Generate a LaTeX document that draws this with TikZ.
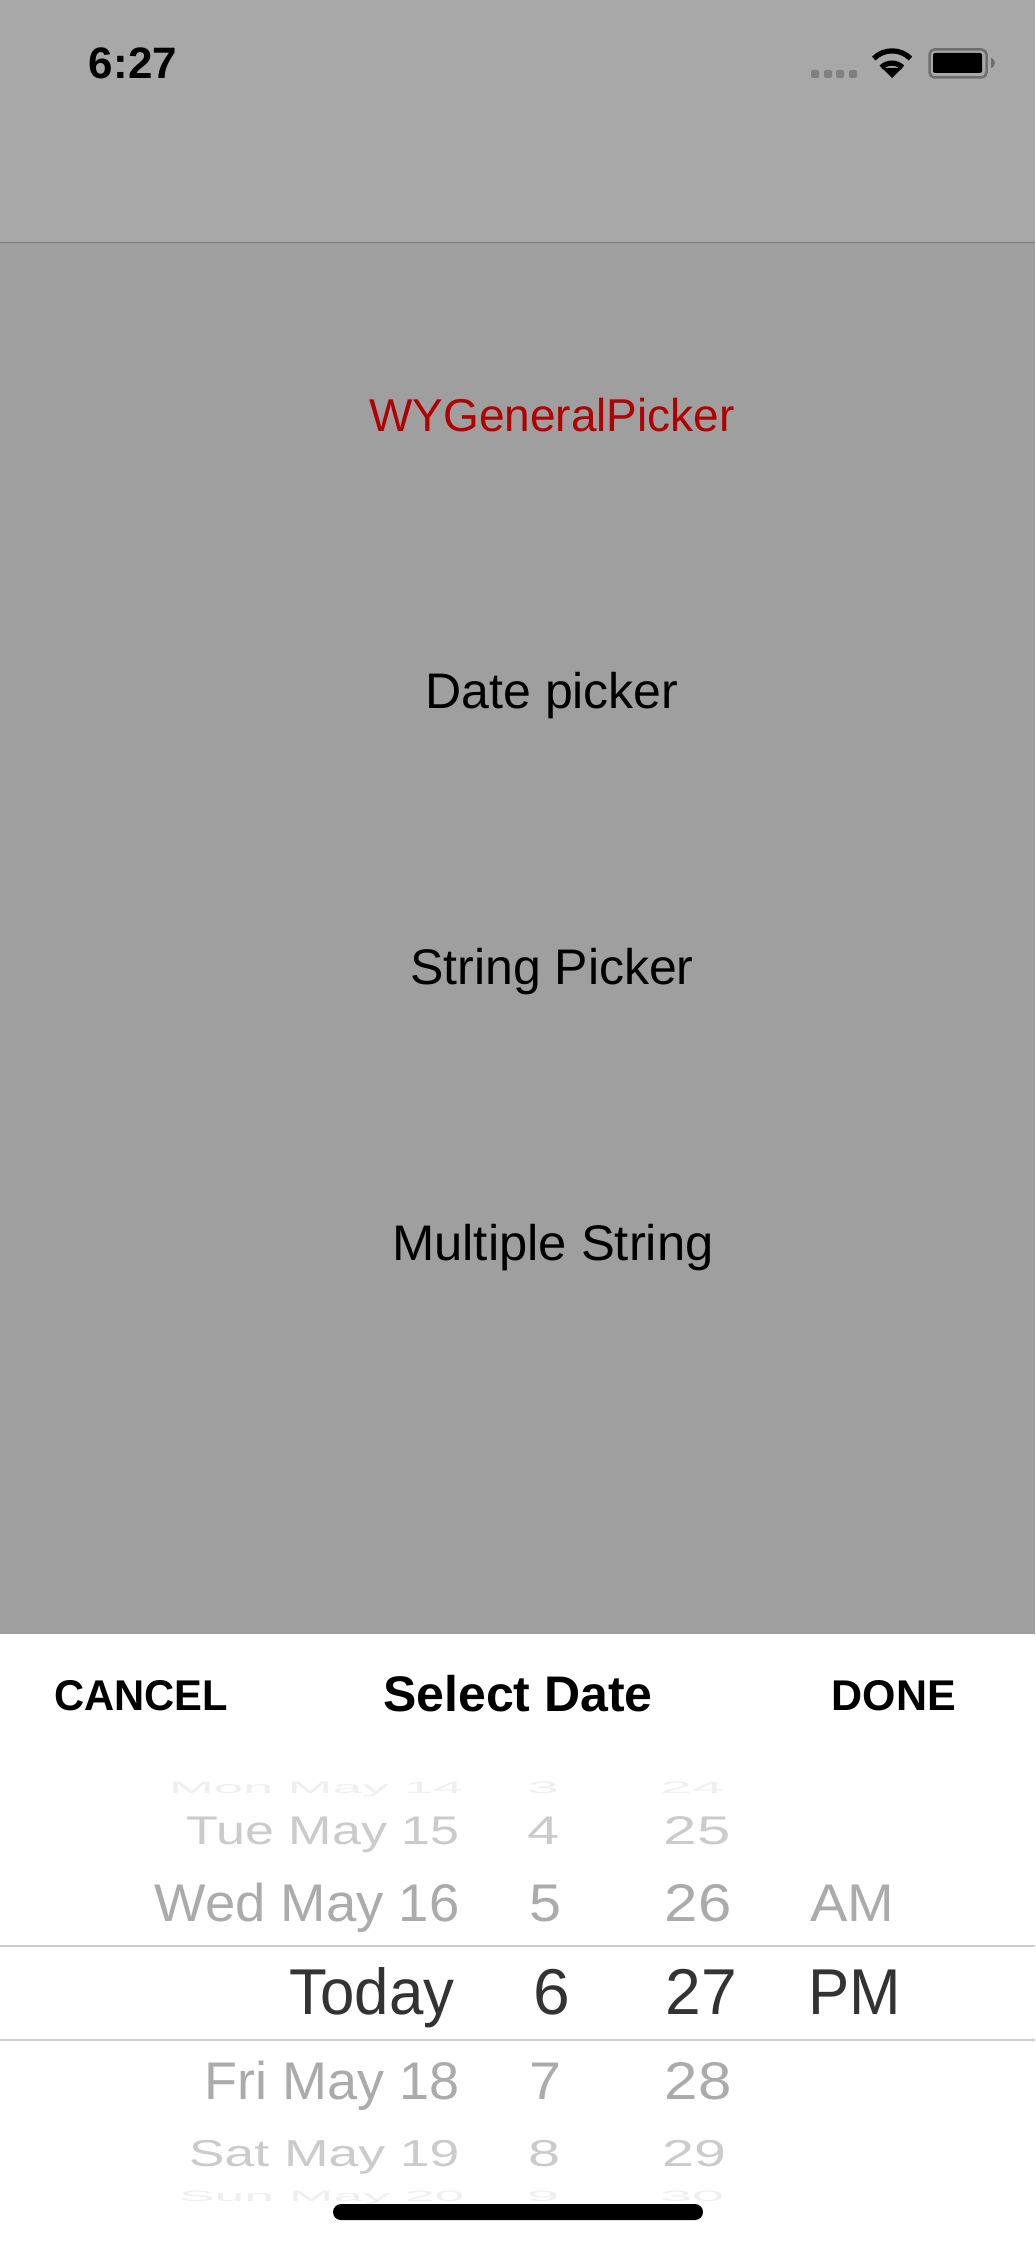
\documentclass[tikz,border=0pt]{standalone}
\usepackage{graphicx}
\usepackage{fontspec}
\setmainfont{Liberation Sans}
\usepackage{xcolor}
\definecolor{navgray}{HTML}{A8A8A8}
\definecolor{dimgray}{HTML}{9F9F9F}
\definecolor{navline}{HTML}{7C7C7C}
\definecolor{titlered}{HTML}{B00000}
\definecolor{wheelline}{HTML}{CDCDCD}
\definecolor{wheeldark}{HTML}{333333}
\definecolor{wheelnear}{HTML}{ABABAB}
\definecolor{wheelmid}{HTML}{CBCBCB}
\definecolor{wheelfar}{HTML}{EFEFEF}
\definecolor{signalgray}{HTML}{808080}
\definecolor{batterygray}{HTML}{6E6E6E}
\newcommand{\rowtext}[3]{\scalebox{#1}[#2]{#3}}
\tikzset{
  menuitem/.style={anchor=base, inner sep=0pt, font=\fontsize{25}{25}\selectfont},
  barbutton/.style={anchor=base, inner sep=0pt, font=\fontsize{21.5}{22}\selectfont\bfseries},
  wheelrow/.style={anchor=base east, inner sep=0pt, font=\fontsize{25}{25}\selectfont},
  wheelnum/.style={anchor=base, inner sep=0pt, font=\fontsize{25}{25}\selectfont},
  wheelnow/.style={anchor=base, inner sep=0pt, text=wheeldark, font=\fontsize{30}{30}\selectfont},
  signaldot/.style={fill=signalgray, rounded corners=1pt}
}
\begin{document}
\begin{tikzpicture}[x=0.5pt, y=-0.5pt, line width=0.5pt]
    \useasboundingbox (0,0) rectangle (1035,2241);
    % backgrounds
    \fill[navgray] (0,0) rectangle (1035,243);
    \fill[dimgray] (0,243) rectangle (1035,1634);
    \fill[white] (0,1634) rectangle (1035,2241);
    \draw[navline] (0,243) -- (1035,243);
    % status bar
    \node[anchor=base, inner sep=0pt, font=\fontsize{22}{22}\selectfont\bfseries] (clock) at (133,79) {6:27};
    \foreach \dotx in {815,828,840,853}
      \fill[signaldot] (\dotx-4,70) rectangle (\dotx+4,78);
    \draw[line width=2.6pt] (910.5,58.5) arc[start angle=45, end angle=135, radius=13pt];
    \draw[line width=2.6pt] (902.5,67.5) arc[start angle=45, end angle=135, radius=7.5pt];
    \fill (892,78) -- (882,68) -- (902,68) -- cycle;
    \draw[batterygray, line width=1.25pt, rounded corners=2.5pt] (929.5,49.5) rectangle (986.5,77.5);
    \fill[rounded corners=1pt] (933,53) rectangle (982,73);
    \fill[batterygray] (991,58) -- (993,59) -- (995,63) -- (993,67) -- (991,68) -- cycle;
    % menu
    \node[menuitem, text=titlered, font=\fontsize{23}{23}\selectfont] (title) at (552,432) {WYGeneralPicker};
    \node[menuitem] (datepicker) at (552,708) {Date picker};
    \node[menuitem] (stringpicker) at (552,984) {String Picker};
    \node[menuitem] (multiple) at (553,1260) {\rowtext{1.015}{1}{Multiple String}};
    % picker bar
    \node[barbutton] (cancel) at (141,1710) {\rowtext{0.97}{1}{CANCEL}};
    \node[barbutton, font=\fontsize{25}{25}\selectfont\bfseries] (selectdate) at (518,1711) {Select Date};
    \node[barbutton] (done) at (894,1710) {DONE};
    \draw[wheelline, line width=1pt] (0,1946) -- (1035,1946);
    \draw[wheelline, line width=0.75pt] (0,2040) -- (1035,2040);
    % date column
    \node[wheelrow, text=wheelfar] (mon) at (464,1793) {\rowtext{1.07}{0.33}{Mon May 14}};
    \node[wheelrow, text=wheelmid] (tue) at (460,1844) {\rowtext{1.04}{0.8}{Tue May 15}};
    \node[wheelrow, text=wheelnear] (wed) at (460,1921) {\rowtext{1.09}{1.06}{Wed May 16}};
    \node[anchor=base east, inner sep=0pt, text=wheeldark, font=\fontsize{30}{30}\selectfont] (today) at (455,2014) {\rowtext{1.03}{1.08}{Today}};
    \node[wheelrow, text=wheelnear] (fri) at (460,2099) {\rowtext{1.08}{1.06}{Fri May 18}};
    \node[wheelrow, text=wheelmid] (sat) at (460,2166) {\rowtext{1.07}{0.75}{Sat May 19}};
    \node[wheelrow, text=wheelfar] (sun) at (465,2201) {\rowtext{1.07}{0.3}{Sun May 20}};
    % hour column
    \node[wheelnum, text=wheelfar] (hthree) at (543,1793) {\rowtext{1.15}{0.33}{3}};
    \node[wheelnum, text=wheelmid] (hfour) at (543,1844) {\rowtext{1.15}{0.8}{4}};
    \node[wheelnum, text=wheelnear] (hfive) at (545,1921) {\rowtext{1.15}{1.06}{5}};
    \node[wheelnow] (hsix) at (552,2014) {\rowtext{1.1}{1.08}{6}};
    \node[wheelnum, text=wheelnear] (hseven) at (545,2099) {\rowtext{1.15}{1.06}{7}};
    \node[wheelnum, text=wheelmid] (height) at (544,2166) {\rowtext{1.15}{0.75}{8}};
    \node[wheelnum, text=wheelfar] (hnine) at (543,2201) {\rowtext{1.15}{0.3}{9}};
    % minute column
    \node[wheelnum, text=wheelfar] (mfour) at (692,1793) {\rowtext{1.15}{0.33}{24}};
    \node[wheelnum, text=wheelmid] (mfive) at (697,1844) {\rowtext{1.2}{0.8}{25}};
    \node[wheelnum, text=wheelnear] (msix) at (698,1921) {\rowtext{1.2}{1.06}{26}};
    \node[wheelnow] (mseven) at (701,2014) {\rowtext{1.07}{1.08}{27}};
    \node[wheelnum, text=wheelnear] (meight) at (698,2099) {\rowtext{1.2}{1.06}{28}};
    \node[wheelnum, text=wheelmid] (mnine) at (694,2166) {\rowtext{1.15}{0.75}{29}};
    \node[wheelnum, text=wheelfar] (mzero) at (692,2201) {\rowtext{1.15}{0.3}{30}};
    % am pm column
    \node[wheelnum, text=wheelnear] (am) at (852,1921) {\rowtext{1.12}{1.06}{AM}};
    \node[wheelnow] (pm) at (855,2014) {\rowtext{1.03}{1.08}{PM}};
    % home indicator
    \fill[rounded corners=4pt] (333,2204) rectangle (703,2220);
  \end{tikzpicture}
\end{document}
